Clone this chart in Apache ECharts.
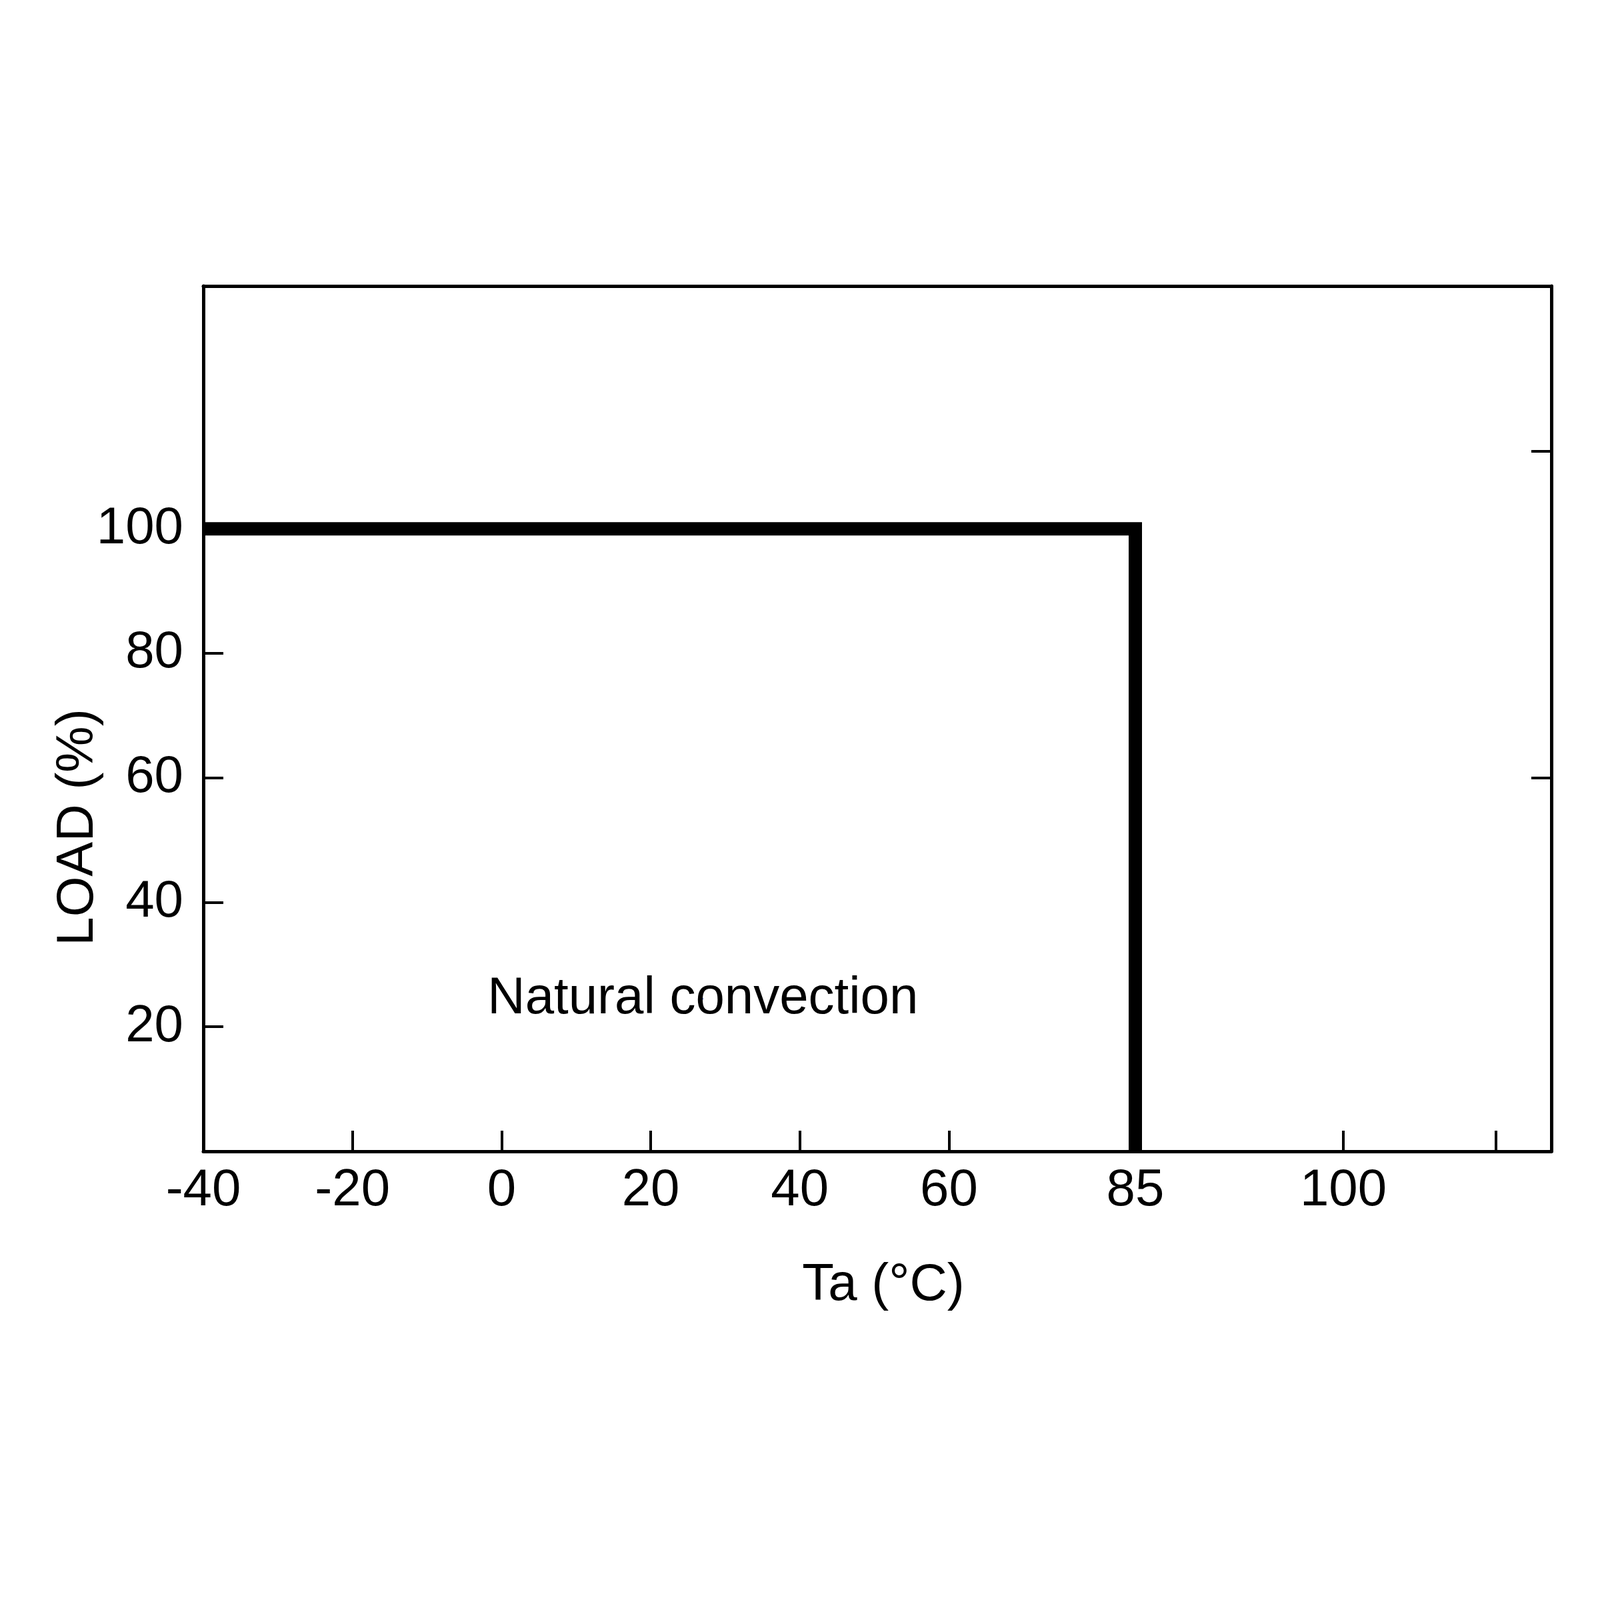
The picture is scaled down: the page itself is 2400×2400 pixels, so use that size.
<!DOCTYPE html>
<html>
<head>
<meta charset="utf-8">
<script src="https://cdn.jsdelivr.net/npm/echarts@6/dist/echarts.min.js"></script>
<style>
html,body{margin:0;padding:0;background:#fff;}
#chart{width:2400px;height:2400px;}
</style>
</head>
<body>
<div id="chart"></div>
<script>
// Derating curve data
const tempC = [-40, 85, 85];
const loadPct = [100, 100, 0];
// Axis ticks (broken x-axis: first segment -40..85, second 85..115)
const xLabels1 = [-40, -20, 0, 20, 40, 60, 85];
const xTicks1 = [-20, 0, 20, 40, 60];
const xLabels2 = [100];
const xTicks2 = [100, 111];
const yLabels = [20, 40, 60, 80, 100];
const yTicksRight = [60, 112.5];
const annotation = { text: 'Natural convection', x: 27, y: 24.5 };
const xName = 'Ta (°C)';
const yName = 'LOAD (%)';

const FONT = 'Liberation Sans, Arial, sans-serif';
const FS = 78;
const BLACK = '#000';
const lineStyle = { color: BLACK, width: 5 };
const tickStyle = { color: BLACK, width: 4 };

const chart = echarts.init(document.getElementById('chart'));
chart.setOption({
  backgroundColor: '#fff',
  animation: false,
  grid: [
    { left: 305, top: 429, width: 1398, bottom: 673 },
    { left: 1703, top: 429, width: 624, bottom: 673 }
  ],
  xAxis: [
    { type: 'value', gridIndex: 0, min: -40, max: 85, position: 'bottom',
      splitLine: { show: false },
      axisLine: { show: true, onZero: false, lineStyle: lineStyle },
      axisTick: { show: true, inside: true, length: 31, customValues: xTicks1, lineStyle: tickStyle },
      axisLabel: { show: true, customValues: xLabels1, margin: 20, color: BLACK, fontSize: FS, fontFamily: FONT }
    },
    { type: 'value', gridIndex: 1, min: 85, max: 115, position: 'bottom',
      splitLine: { show: false },
      axisLine: { show: true, onZero: false, lineStyle: lineStyle },
      axisTick: { show: true, inside: true, length: 31, customValues: xTicks2, lineStyle: tickStyle },
      axisLabel: { show: true, customValues: xLabels2, margin: 20, color: BLACK, fontSize: FS, fontFamily: FONT }
    },
    { type: 'value', gridIndex: 0, min: -40, max: 85, position: 'top',
      splitLine: { show: false }, axisLine: { show: true, onZero: false, lineStyle: lineStyle },
      axisTick: { show: false }, axisLabel: { show: false } },
    { type: 'value', gridIndex: 1, min: 85, max: 115, position: 'top',
      splitLine: { show: false }, axisLine: { show: true, onZero: false, lineStyle: lineStyle },
      axisTick: { show: false }, axisLabel: { show: false } }
  ],
  yAxis: [
    { type: 'value', gridIndex: 0, min: 0, max: 139, position: 'left',
      splitLine: { show: false },
      axisLine: { show: true, onZero: false, lineStyle: lineStyle },
      axisTick: { show: true, inside: true, length: 30, customValues: yLabels, lineStyle: tickStyle },
      axisLabel: { show: true, customValues: yLabels, margin: 30, color: BLACK, fontSize: FS, fontFamily: FONT }
    },
    { type: 'value', gridIndex: 1, min: 0, max: 139, position: 'right',
      splitLine: { show: false },
      axisLine: { show: true, onZero: false, lineStyle: lineStyle },
      axisTick: { show: true, inside: true, length: 30, customValues: yTicksRight, lineStyle: tickStyle },
      axisLabel: { show: false }
    }
  ],
  series: [
    { type: 'line', xAxisIndex: 0, yAxisIndex: 0,
      data: tempC.map((t, i) => [t, loadPct[i]]),
      symbol: 'none', clip: false,
      lineStyle: { color: BLACK, width: 20, join: 'miter', cap: 'butt' },
      markPoint: {
        symbol: 'circle', symbolSize: 0,
        label: { show: true, position: 'inside', color: BLACK, fontSize: FS, fontFamily: FONT, formatter: annotation.text },
        data: [{ coord: [annotation.x, annotation.y], value: annotation.text }]
      }
    }
  ],
  graphic: [
    { type: 'text', x: 1325, y: 1928,
      style: { text: xName, font: FS + 'px ' + FONT, fill: BLACK, align: 'center', verticalAlign: 'middle' } },
    { type: 'text', x: 117, y: 1241, rotation: Math.PI / 2,
      style: { text: yName, font: FS + 'px ' + FONT, fill: BLACK, align: 'center', verticalAlign: 'middle' } }
  ]
});
</script>
</body>
</html>
